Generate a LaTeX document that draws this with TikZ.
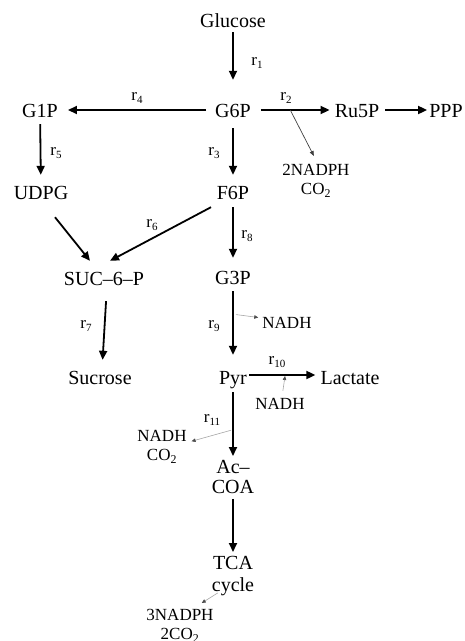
\documentclass[tikz,border=0pt]{standalone}
\usepackage{fontspec}
\setmainfont{Liberation Serif}
\usetikzlibrary{arrows.meta}
\newcommand\rlab[1]{r\raisebox{-2.5pt}{\fontsize{11}{11}\selectfont #1}}
\begin{document}
\begin{tikzpicture}[x=1pt,y=-1pt,
  met/.style={font=\fontsize{20}{20}\selectfont, inner sep=0pt, text height=14pt, text depth=0pt, anchor=base},
  met2/.style={font=\fontsize{20}{20}\selectfont, inner sep=0pt, align=center, anchor=north},
  sub/.style={font=\fontsize{17}{19}\selectfont, inner sep=0pt, align=center, anchor=north},
  subone/.style={font=\fontsize{17}{17}\selectfont, inner sep=0pt, text height=12pt, text depth=0pt, anchor=base},
  lab/.style={font=\fontsize{17}{17}\selectfont, inner sep=0pt},
  main/.style={line width=1.8pt, -{Triangle[length=9pt,width=8pt]}},
  side/.style={line width=0.7pt, draw=black!75, -{Triangle[length=5pt,width=4pt]}},
  faint/.style={line width=0.6pt, draw=black!35, -{Triangle[length=4pt,width=3.5pt,color=black!70,fill=black!70]}},
]
\useasboundingbox (0,0) rectangle (465,641);

% metabolites
\node[met] (glu) at (233,27) {Glucose};
\node[met] (g6p) at (233,117) {G6P};
\node[met] (g1p) at (40,117) {G1P};
\node[met] (ru5p) at (357,117) {Ru5P};
\node[met] (ppp) at (446,117) {PPP};
\node[sub] (nadph2) at (316,164) {2NADPH\\CO\textsubscript{2}};
\node[met] (udpg) at (41,199) {UDPG};
\node[met] (f6p) at (233,199) {F6P};
\node[met] (suc6p) at (104,285) {SUC–6–P};
\node[met] (g3p) at (233,284) {G3P};
\node[subone] (nadh9) at (287,328) {NADH};
\node[met] (sucrose) at (100,384) {Sucrose};
\node[met] (pyr) at (233,384) {Pyr};
\node[met] (lact) at (350,384) {Lactate};
\node[subone] (nadh10) at (280,409) {NADH};
\node[sub] (nadh11) at (162,430) {NADH\\CO\textsubscript{2}};
\node[met2] (accoa) at (233,460) {Ac–\\COA};
\node[met2, font=\fontsize{20}{22}\selectfont] (tca) at (233,556) {TCA\\cycle};
\node[sub] (nadph3) at (180,609) {3NADPH\\2CO\textsubscript{2}};

% reaction labels
\node[lab] (l1) at (257,63) {\rlab{1}};
\node[lab] (l2) at (286,98) {\rlab{2}};
\node[lab] (l3) at (214,153) {\rlab{3}};
\node[lab] (l4) at (137,98) {\rlab{4}};
\node[lab] (l5) at (56,153) {\rlab{5}};
\node[lab] (l6) at (152,225) {\rlab{6}};
\node[lab] (l7) at (86,326) {\rlab{7}};
\node[lab] (l8) at (247,236) {\rlab{8}};
\node[lab] (l9) at (214,326) {\rlab{9}};
\node[lab] (l10) at (277,362) {\rlab{10}};
\node[lab] (l11) at (212,420) {\rlab{11}};

% main arrows
\draw[main, shorten <=5pt, shorten >=23pt] (glu) -- (g6p);
\draw[main, shorten <=10pt, shorten >=5pt] (g6p) -- coordinate[pos=0.47] (b2) (ru5p);
\draw[main, shorten <=6pt, shorten >=2pt] (ru5p) -- (ppp);
\draw[main, shorten <=9pt, shorten >=10pt] (g6p) -- (g1p);
\draw[main, shorten <=11pt, shorten >=10pt] (g6p) -- (f6p);
\draw[main, shorten <=7pt, shorten >=10pt] (g1p) -- (udpg);
\draw[main] ([xshift=14pt,yshift=-18pt]udpg.south) -- ([xshift=-14pt,yshift=10pt]suc6p.north);
\draw[main] ([xshift=-22pt,yshift=-8pt]f6p.south) -- ([xshift=6pt,yshift=10pt]suc6p.north);
\draw[main, shorten <=8pt, shorten >=12pt] (f6p) -- (g3p);
\draw[main, shorten <=16pt, shorten >=10pt] ([xshift=3pt]suc6p.south) -- ([xshift=2pt]sucrose.north);
\draw[main, shorten <=7pt, shorten >=15pt] (g3p) -- coordinate[pos=0.35] (b9) (pyr);
\draw[main, shorten <=2pt, shorten >=5pt] ([yshift=2pt]pyr.east) -- coordinate[pos=0.52] (b10) ([yshift=2pt]lact.west);
\draw[main, shorten <=8pt, shorten >=4pt] (pyr) -- coordinate[pos=0.6] (b11) (accoa);
\draw[main, shorten <=5pt, shorten >=4pt] (accoa) -- (tca);

% side products
\draw[side, shorten >=9pt] (b2) -- ([xshift=2pt]nadph2.north);
\draw[faint, shorten <=3pt, shorten >=4pt] (b9) -- ([yshift=4pt]nadh9.west);
\draw[faint, shorten <=6pt, shorten >=1pt] ([xshift=2pt]nadh10.north) -- (b10);
\draw[faint, shorten <=2pt, shorten >=5pt] (b11) -- ([yshift=4pt]nadh11.east);
\draw[faint] ([xshift=6pt,yshift=3pt]tca.south west) -- ([xshift=-12pt,yshift=6pt]nadph3.north east);
\end{tikzpicture}
\end{document}
